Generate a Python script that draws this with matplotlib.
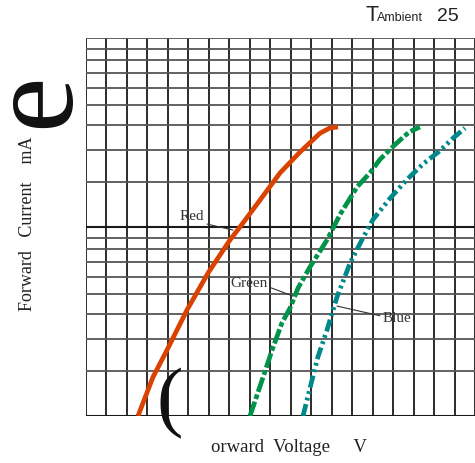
import numpy as np
import matplotlib
matplotlib.use("Agg")
import matplotlib.pyplot as plt

#Forward voltage (V) and forward current (mA)
red_v = [1.654, 1.727, 1.796, 1.893, 1.996, 2.103, 2.152, 2.250, 2.348, 2.445, 2.543, 2.592, 2.631]
red_i = [1.0, 1.84, 2.63, 4.20, 6.26, 8.78, 10.0, 15.5, 22.6, 29.3, 36.6, 38.9, 39.3]

green_v = [2.201, 2.265, 2.309, 2.357, 2.397, 2.436, 2.494, 2.577, 2.641, 2.724, 2.787, 2.836, 2.910, 2.978, 3.031]
green_i = [1.0, 1.84, 2.63, 3.63, 4.30, 5.35, 6.67, 8.78, 12.4, 18.7, 22.6, 26.8, 32.1, 37.1, 39.3]

blue_v = [2.460, 2.504, 2.533, 2.577, 2.626, 2.690, 2.753, 2.802, 2.885, 2.968, 3.046, 3.129, 3.193, 3.251]
blue_i = [1.0, 1.77, 2.41, 3.34, 4.85, 6.95, 8.98, 11.4, 15.9, 20.7, 25.3, 29.8, 34.6, 38.8]

#Grid values
v_grid = np.round(np.arange(1.4, 3.31, 0.1), 2)
i_grid = [1, 2, 3, 4, 5, 6, 7, 8, 9, 10, 20, 30, 40, 50, 60, 70, 80, 90, 100]


#The printed grid is not a true log grid: each decade is spaced like log(v + 1)
def fwd(v):
    v = np.clip(np.asarray(v, dtype=float), 1e-6, None)
    d = np.floor(np.log10(v) + 1e-12)
    frac = v / 10.0 ** d
    return d + np.log((frac + 1) / 2) / np.log(5.5)


def inv(t):
    t = np.asarray(t, dtype=float)
    d = np.floor(t)
    f = t - d
    return (2 * 5.5 ** f - 1) * 10.0 ** d


fig = plt.figure(figsize=(4.75, 4.63), dpi=100)
ax = fig.add_axes([86 / 475, 47 / 463, 389 / 475, 378 / 463])
ax.set_yscale("function", functions=(fwd, inv))
ax.set_xlim(1.4, 3.3)
ax.set_ylim(1, 100)

#Grid lines
for v in v_grid:
    ax.axvline(v, color="#1a1a1a", lw=1.3, zorder=1)
for i in i_grid:
    if i in (1, 10):
        ax.axhline(i, color="#1a1a1a", lw=1.5, zorder=1)
    else:
        ax.axhline(i, color="#555555", lw=1.3, zorder=1)

ax.set_xticks([])
ax.set_yticks([])
ax.minorticks_off()
for s in ax.spines.values():
    s.set_visible(False)

#Curves
ax.plot(red_v, red_i, color="#d94200", lw=3.4, solid_capstyle="butt", zorder=3)
ax.plot(green_v, green_i, color="#00944a", lw=3.4, dashes=[3.2, 0.6, 1.0, 0.6], zorder=3)
ax.plot(blue_v, blue_i, color="#00898a", lw=3.4, dashes=[2.6, 0.8, 0.6, 0.8, 0.6, 0.8], zorder=3)

#Curve labels with leader lines
lab = dict(fontsize=11, family="Liberation Serif", color="#333333", ha="center", va="center")
line = dict(arrowstyle="-", color="#333333", lw=0.8, shrinkA=0, shrinkB=0)
ax.annotate("Red", xy=(2.118, 9.7), xytext=(1.918, 11.9),
            arrowprops=dict(line, relpos=(1, 0)), **lab)
ax.annotate("Green", xy=(2.411, 4.90), xytext=(2.196, 5.58),
            arrowprops=dict(line, relpos=(1, 0.3)), **lab)
ax.annotate("Blue", xy=(2.626, 4.39), xytext=(2.919, 3.80),
            arrowprops=dict(line, relpos=(0, 0.7)), **lab)

#Axis titles (with the stray symbol glyphs of the original)
serif = "Liberation Serif"
fig.text(28 / 475, 1 - 311 / 463, "Forward   Current    mA", rotation=90,
         ha="center", va="bottom", fontsize=13, family=serif, color="#222222")
fig.text(38 / 475, 1 - 100 / 463, "e", rotation=90, ha="center", va="center",
         fontsize=90, family=serif, color="#111111")
fig.text(170 / 475, 1 - 404 / 463, "(", ha="center", va="center",
         fontsize=57, family=serif, color="#111111")
fig.text(211 / 475, 1 - 447 / 463, "orward  Voltage     V", ha="left", va="center",
         fontsize=13.5, family=serif, color="#222222")

#Ambient temperature note
sans = "Liberation Sans"
fig.text(365 / 475, 1 - 21 / 463, "T", ha="left", va="baseline",
         fontsize=15.5, family=sans, color="#222222")
fig.text(377 / 475, 1 - 21 / 463, "Ambient", ha="left", va="baseline",
         fontsize=9, family=sans, color="#222222")
fig.text(437 / 475, 1 - 21 / 463, "25", ha="left", va="baseline",
         fontsize=14, family=sans, color="#222222")

fig.savefig("out.png", dpi=100)
